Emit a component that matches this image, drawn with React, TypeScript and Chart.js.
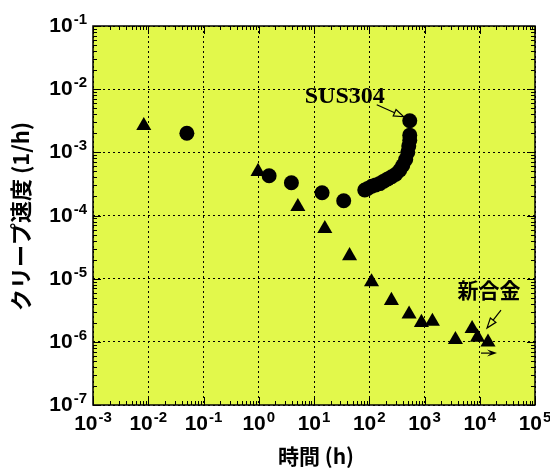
import React, { useEffect, useRef } from "react";
import { Chart, registerables } from "chart.js";

Chart.register(...registerables);

// ---- data ----
const xTickExponents = [-3, -2, -1, 0, 1, 2, 3, 4, 5];
const yTickExponents = [-7, -6, -5, -4, -3, -2, -1];

const susHours = [0.05, 1.54, 3.9, 14, 34.5, 83, 94, 111, 131, 155, 183, 216, 255, 302, 356, 404, 457, 498, 519, 541, 541, 541];
const susRate = [2.0e-3, 4.26e-4, 3.3e-4, 2.29e-4, 1.71e-4, 2.53e-4, 2.68e-4, 2.9e-4, 3.05e-4, 3.2e-4, 3.5e-4, 3.8e-4, 4.1e-4, 4.5e-4, 5.2e-4, 6.2e-4, 7.7e-4, 1.0e-3, 1.26e-3, 1.56e-3, 1.87e-3, 3.16e-3];

const alloyHours = [0.0083, 0.97, 5.1, 15.7, 44, 110, 252, 526, 880, 1390, 3630, 7270, 9100, 14100];
const alloyRate = [2.64e-3, 4.96e-4, 1.38e-4, 6.2e-5, 2.3e-5, 8.9e-6, 4.5e-6, 2.75e-6, 2.02e-6, 2.1e-6, 1.08e-6, 1.62e-6, 1.18e-6, 9.9e-7];

const seriesLabels = ["SUS304", "新合金"];
const xTitle = "時間 (h)";
const yTitle = "クリープ速度 (1/h)";

const BG = "#e2f84b";

function arrow(ctx: CanvasRenderingContext2D, x1: number, y1: number, x2: number, y2: number, filled: boolean) {
  const ang = Math.atan2(y2 - y1, x2 - x1);
  const len = 10;
  const hw = 3.5;
  const bx = x2 - Math.cos(ang) * len;
  const by = y2 - Math.sin(ang) * len;
  ctx.beginPath();
  ctx.moveTo(x1, y1);
  ctx.lineTo(filled ? x2 - Math.cos(ang) * 4 : bx, filled ? y2 - Math.sin(ang) * 4 : by);
  ctx.lineWidth = 1.2;
  ctx.stroke();
  const px = -Math.sin(ang) * hw;
  const py = Math.cos(ang) * hw;
  ctx.beginPath();
  ctx.moveTo(x2, y2);
  ctx.lineTo(bx + px, by + py);
  if (filled) ctx.lineTo(x2 - Math.cos(ang) * 6, y2 - Math.sin(ang) * 6);
  ctx.lineTo(bx - px, by - py);
  ctx.closePath();
  if (filled) ctx.fill();
  else ctx.stroke();
}

function drawPow(ctx: CanvasRenderingContext2D, exp: number, x: number, baseY: number, align: "center" | "right") {
  const baseFont = "bold 21px 'Liberation Sans', Arial, sans-serif";
  const expFont = "bold 15px 'Liberation Sans', Arial, sans-serif";
  const base = "10";
  const e = exp < 0 ? "-" + Math.abs(exp) : String(exp);
  ctx.font = baseFont;
  const wb = ctx.measureText(base).width;
  ctx.font = expFont;
  const we = ctx.measureText(e).width;
  const total = wb + we + 1;
  const start = align === "center" ? x - total / 2 : x - total;
  ctx.textAlign = "left";
  ctx.textBaseline = "alphabetic";
  ctx.font = baseFont;
  ctx.fillText(base, start, baseY);
  ctx.font = expFont;
  ctx.fillText(e, start + wb + 1, baseY - 8);
}

const decorPlugin = {
  id: "decor",
  beforeDraw(chart: any) {
    const { ctx, chartArea: a } = chart;
    ctx.save();
    ctx.fillStyle = BG;
    ctx.fillRect(a.left, a.top, a.right - a.left, a.bottom - a.top);
    ctx.restore();
  },
  afterDraw(chart: any) {
    const { ctx, chartArea: a } = chart;
    const xs = chart.scales.x;
    const ys = chart.scales.y;
    ctx.save();
    ctx.strokeStyle = "#000";
    ctx.fillStyle = "#000";
    // frame
    ctx.lineWidth = 1.5;
    ctx.strokeRect(a.left, a.top, a.right - a.left, a.bottom - a.top);
    // inward ticks
    ctx.lineWidth = 1;
    ctx.beginPath();
    for (let i = 0; i < xTickExponents.length; i++) {
      const ex = xTickExponents[i];
      for (let m = 1; m <= 9; m++) {
        if (i === xTickExponents.length - 1 && m > 1) break;
        const px = Math.round(xs.getPixelForValue(m * Math.pow(10, ex))) + 0.5;
        const L = m === 1 ? 8 : 4;
        ctx.moveTo(px, a.bottom);
        ctx.lineTo(px, a.bottom - L);
        ctx.moveTo(px, a.top);
        ctx.lineTo(px, a.top + L);
      }
    }
    for (let i = 0; i < yTickExponents.length; i++) {
      const ex = yTickExponents[i];
      for (let m = 1; m <= 9; m++) {
        if (i === yTickExponents.length - 1 && m > 1) break;
        const py = Math.round(ys.getPixelForValue(m * Math.pow(10, ex))) + 0.5;
        const L = m === 1 ? 8 : 4;
        ctx.moveTo(a.left, py);
        ctx.lineTo(a.left + L, py);
        ctx.moveTo(a.right, py);
        ctx.lineTo(a.right - L, py);
      }
    }
    ctx.stroke();

    // tick labels
    for (const ex of xTickExponents) {
      const px = xs.getPixelForValue(Math.pow(10, ex));
      drawPow(ctx, ex, px, a.bottom + 25, "center");
    }
    for (const ex of yTickExponents) {
      const py = ys.getPixelForValue(Math.pow(10, ex));
      drawPow(ctx, ex, a.left - 6, py + 6, "right");
    }

    // axis titles
    ctx.font = "bold 21px 'Noto Sans CJK JP', sans-serif";
    ctx.textAlign = "center";
    ctx.textBaseline = "middle";
    ctx.fillText(xTitle, 316, a.bottom + 51);
    ctx.save();
    ctx.translate(21, (a.top + a.bottom) / 2 + 1);
    ctx.rotate(-Math.PI / 2);
    ctx.font = "bold 22px 'Noto Sans CJK JP', sans-serif";
    ctx.fillText(yTitle, 0, 0);
    ctx.restore();

    // annotations
    const sx = xs.getPixelForValue(susHours[susHours.length - 1]);
    const sy = ys.getPixelForValue(susRate[susRate.length - 1]);
    ctx.font = "bold 24px 'Liberation Serif', 'Times New Roman', serif";
    ctx.textAlign = "center";
    ctx.textBaseline = "middle";
    ctx.fillText(seriesLabels[0], sx - 65, sy - 24);
    arrow(ctx, sx - 33, sy - 16, sx - 6, sy - 4, false);

    const tx = xs.getPixelForValue(alloyHours[alloyHours.length - 1]);
    const ty = ys.getPixelForValue(alloyRate[alloyRate.length - 1]);
    ctx.font = "bold 21px 'Noto Sans CJK JP', sans-serif";
    ctx.fillText(seriesLabels[1], tx + 1, ty - 52);
    arrow(ctx, tx + 13, ty - 32, tx - 1, ty - 14, false);
    arrow(ctx, tx - 7, ty + 11, tx + 9, ty + 11, true);
    ctx.restore();
  },
};

export default function App() {
  const ref = useRef<HTMLCanvasElement | null>(null);
  useEffect(() => {
    if (!ref.current) return;
    const chart = new Chart(ref.current, {
      type: "scatter",
      data: {
        datasets: [
          {
            label: seriesLabels[0],
            data: susHours.map((h, i) => ({ x: h, y: susRate[i] })),
            pointStyle: "circle",
            pointRadius: 7.5,
            pointBackgroundColor: "#000",
            pointBorderWidth: 0,
            showLine: false,
          },
          {
            label: seriesLabels[1],
            data: alloyHours.map((h, i) => ({ x: h, y: alloyRate[i] })),
            pointStyle: "triangle",
            pointRadius: 8.7,
            pointBackgroundColor: "#000",
            pointBorderWidth: 0,
            showLine: false,
          },
        ],
      },
      options: {
        responsive: false,
        animation: false,
        events: [],
        layout: { padding: { left: 0, top: 26, right: 15, bottom: 0 } },
        plugins: { legend: { display: false }, tooltip: { enabled: false }, title: { display: false } },
        scales: {
          x: {
            type: "logarithmic",
            min: Math.pow(10, xTickExponents[0]),
            max: Math.pow(10, xTickExponents[xTickExponents.length - 1]),
            afterBuildTicks: (s: any) => {
              s.ticks = xTickExponents.map((e) => ({ value: Math.pow(10, e) }));
            },
            afterFit: (s: any) => {
              s.height = 63;
            },
            ticks: { display: false },
            grid: { color: "#000", lineWidth: 1, drawTicks: false },
            border: { display: false, dash: [2, 3] },
          },
          y: {
            type: "logarithmic",
            min: Math.pow(10, yTickExponents[0]),
            max: Math.pow(10, yTickExponents[yTickExponents.length - 1]),
            afterBuildTicks: (s: any) => {
              s.ticks = yTickExponents.map((e) => ({ value: Math.pow(10, e) }));
            },
            afterFit: (s: any) => {
              s.width = 93;
            },
            ticks: { display: false },
            grid: { color: "#000", lineWidth: 1, drawTicks: false },
            border: { display: false, dash: [2, 3] },
          },
        },
      },
      plugins: [decorPlugin],
    });
    return () => chart.destroy();
  }, []);
  return (
    <canvas
      ref={ref}
      width={550}
      height={468}
      style={{ display: "block", position: "absolute", left: 0, top: 0 }}
    />
  );
}
